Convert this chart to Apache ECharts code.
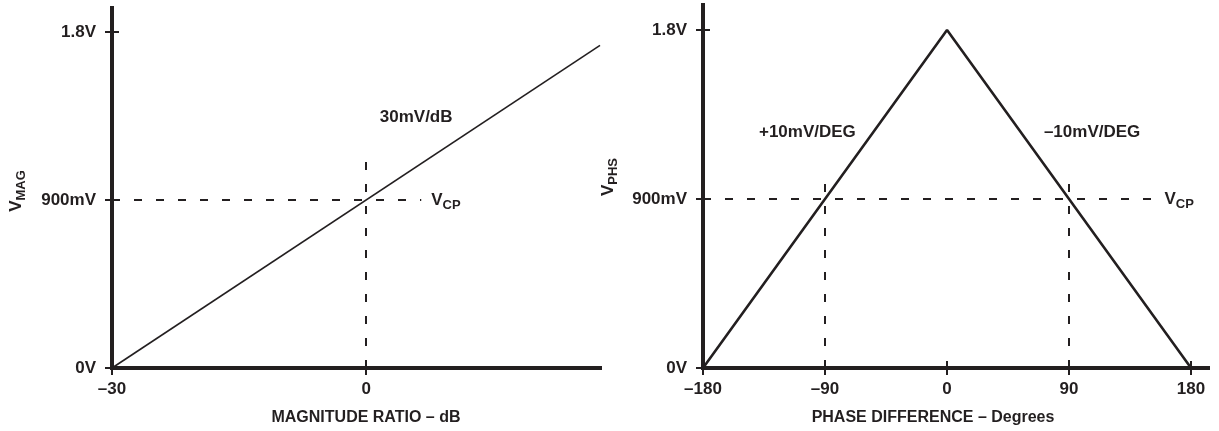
<!DOCTYPE html>
<html><head><meta charset="utf-8">
<script src="https://cdn.jsdelivr.net/npm/echarts@6/dist/echarts.min.js"></script>
<style>html,body{margin:0;padding:0;background:#fff}#c{width:1219px;height:431px}</style>
</head><body><div id="c"></div>
<script>
// ---- data ----
const magXTicks = [-30, 0];
const magXLabels = ['–30', '0'];
const phsXTicks = [-180, -90, 0, 90, 180];
const phsXLabels = ['–180', '–90', '0', '90', '180'];
const yTicks = [0, 0.9, 1.8];
const yLabels = ['0V', '900mV', '1.8V'];
const magDb = [-30, 27.6];
const magV = [0, 1.728];
const phsDeg = [-180, 0, 180];
const phsV = [0, 1.8, 0];
const vcpLevel = 0.9;
const magRefDb = [0];
const phsRefDeg = [-90, 90];
const magText = '30mV/dB';
const phsTexts = ['+10mV/DEG', '–10mV/DEG'];

// ---- styling ----
const INK = '#231f20';
const FONT = '"Liberation Sans", Arial, Helvetica, sans-serif';
const rich = {
  a: {fontSize: 17, fontWeight: 'bold', color: INK, fontFamily: FONT, lineHeight: 24},
  b: {fontSize: 13, fontWeight: 'bold', color: INK, fontFamily: FONT, lineHeight: 14, verticalAlign: 'bottom'}
};
function lookup(ticks, labels) {
  return function (v) {
    for (let i = 0; i < ticks.length; i++) if (Math.abs(ticks[i] - v) < 1e-6) return labels[i];
    return '';
  };
}
const zip = (xs, ys) => xs.map((x, i) => [x, ys[i]]);
const textStyle = {color: INK, fontFamily: FONT, fontWeight: 'bold', fontSize: 17};

function mainX(grid, min, max, ticks, labels, name, pad) {
  return {
    type: 'value', gridIndex: grid, min: min, max: max, position: 'bottom',
    splitLine: {show: false},
    axisLine: {onZero: false, lineStyle: {color: INK, width: 4, cap: 'square'}},
    axisTick: {show: true, customValues: ticks, length: 7, lineStyle: {color: INK, width: 2}},
    axisLabel: Object.assign({customValues: ticks, formatter: lookup(ticks, labels), margin: 13}, textStyle),
    name: name, nameLocation: 'middle', nameGap: 42,
    nameTextStyle: Object.assign({}, textStyle, {fontSize: 16, padding: pad})
  };
}
function dupX(grid, min, max, ticks) {
  return {
    type: 'value', gridIndex: grid, min: min, max: max, position: 'bottom', offset: 0,
    splitLine: {show: false}, axisLine: {show: false, onZero: false},
    axisTick: {show: true, inside: true, customValues: ticks, length: 7, lineStyle: {color: INK, width: 2}},
    axisLabel: {show: false}
  };
}
function mainY(grid, max, nameSub, gap, pad) {
  return {
    type: 'value', gridIndex: grid, min: 0, max: max, position: 'left',
    splitLine: {show: false},
    axisLine: {show: true, onZero: false, lineStyle: {color: INK, width: 4, cap: 'square'}},
    axisTick: {show: true, customValues: yTicks, length: 7, lineStyle: {color: INK, width: 2}},
    axisLabel: Object.assign({customValues: yTicks, formatter: lookup(yTicks, yLabels), margin: 16}, textStyle),
    name: '{a|V}{b|' + nameSub + '}', nameLocation: 'middle', nameGap: gap, nameRotate: 90,
    nameTextStyle: {rich: rich, padding: pad}
  };
}
function dupY(grid, max) {
  return {
    type: 'value', gridIndex: grid, min: 0, max: max, position: 'left', offset: 0,
    splitLine: {show: false}, axisLine: {show: false, onZero: false},
    axisTick: {show: true, inside: true, customValues: yTicks, length: 7, lineStyle: {color: INK, width: 2}},
    axisLabel: {show: false}
  };
}
const dashStyle = {color: INK, width: 2, type: [8, 14]};
const vcpLabel = {show: true, position: 'end', distance: 10, formatter: '{a|V}{b|CP}', rich: rich};

const magMax = 27.6, magYMax = 1.9286;
const phsMin = -180, phsMax = 192.5, phsYMax = 1.933;

const option = {
  animation: false,
  backgroundColor: '#fff',
  textStyle: {fontFamily: FONT},
  grid: [
    {left: 112, top: 8, width: 488, height: 360},
    {left: 703, top: 5, width: 505, height: 363}
  ],
  xAxis: [
    mainX(0, -30, magMax, magXTicks, magXLabels, 'MAGNITUDE RATIO – dB', [0, 0, 0, 20]),
    dupX(0, -30, magMax, magXTicks),
    mainX(1, phsMin, phsMax, phsXTicks, phsXLabels, 'PHASE DIFFERENCE – Degrees', [0, 45, 0, 0]),
    dupX(1, phsMin, phsMax, phsXTicks)
  ],
  yAxis: [
    mainY(0, magYMax, 'MAG', 84, [0, 6, 0, 0]),
    dupY(0, magYMax),
    mainY(1, phsYMax, 'PHS', 83, [0, 0, 0, 19]),
    dupY(1, phsYMax)
  ],
  series: [
    {
      type: 'line', xAxisIndex: 0, yAxisIndex: 0, data: zip(magDb, magV),
      symbol: 'none', lineStyle: {color: INK, width: 1.6}, z: 3,
      markLine: {
        silent: true, symbol: 'none', animation: false,
        lineStyle: dashStyle,
        data: [
          [{coord: [-30, vcpLevel], label: vcpLabel}, {coord: [6.5, vcpLevel]}],
          [{coord: [magRefDb[0], 0], label: {show: false}}, {coord: [magRefDb[0], 1.125]}]
        ]
      },
      markPoint: {
        silent: true, symbol: 'circle', symbolSize: 0,
        label: Object.assign({show: true, position: 'inside', formatter: '{b}'}, textStyle),
        data: [{name: magText, coord: [5.9, 1.345]}]
      }
    },
    {
      type: 'line', xAxisIndex: 2, yAxisIndex: 2, data: zip(phsDeg, phsV),
      symbol: 'none', lineStyle: {color: INK, width: 2.6}, z: 3,
      markLine: {
        silent: true, symbol: 'none', animation: false,
        lineStyle: dashStyle,
        data: [
          [{coord: [phsMin, vcpLevel], label: vcpLabel}, {coord: [153, vcpLevel]}],
          [{coord: [phsRefDeg[0], 0], label: {show: false}}, {coord: [phsRefDeg[0], 1.0]}],
          [{coord: [phsRefDeg[1], 0], label: {show: false}}, {coord: [phsRefDeg[1], 1.0]}]
        ]
      },
      markPoint: {
        silent: true, symbol: 'circle', symbolSize: 0,
        label: Object.assign({show: true, position: 'inside', formatter: '{b}'}, textStyle),
        data: [
          {name: phsTexts[0], coord: [-103, 1.257]},
          {name: phsTexts[1], coord: [107, 1.257]}
        ]
      }
    }
  ]
};
const chart = echarts.init(document.getElementById('c'), null, {renderer: 'canvas'});
chart.setOption(option);
</script>
</body></html>
